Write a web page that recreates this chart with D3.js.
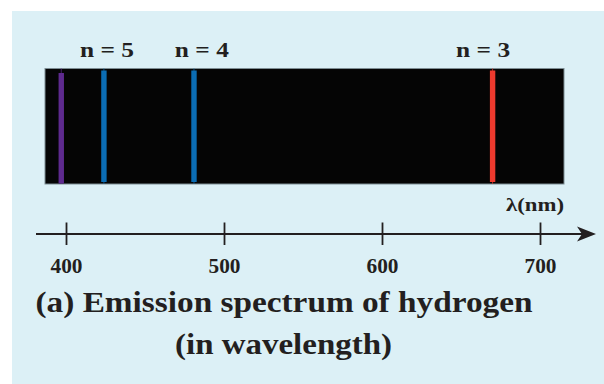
<!DOCTYPE html>
<html>
<head>
<meta charset="utf-8">
<script src="https://cdn.jsdelivr.net/npm/d3@7"></script>
<style>
  body { margin: 0; background: #fff; }
</style>
</head>
<body>
<div id="chart"></div>
<script>
// data
var lineWavelengths = [397, 424, 481, 670];
var lineColors = ["#5e2a8e", "#0b6db4", "#0b6db4", "#ee3a2e"];
var levelLabels = ["n = 5", "n = 4", "n = 3"];
var levelWavelengths = [426, 486, 664];
var tickValues = [400, 500, 600, 700];

var width = 604, height = 384;
var serif = "'Liberation Serif', 'Times New Roman', Times, serif";

var svg = d3.select("#chart")
  .append("svg")
    .attr("width", width)
    .attr("height", height)
    .style("font-family", serif)
    .style("font-weight", "bold");

// light blue panel
svg.append("rect")
  .attr("x", 12).attr("y", 11)
  .attr("width", width - 12).attr("height", height - 11)
  .style("fill", "#dcf0f6");

// x scale (wavelength in nm)
var x = d3.scaleLinear()
  .domain([400, 700])
  .range([66, 540]);

// black spectrum box
var boxTop = 68.5, boxBottom = 184;
svg.append("rect")
  .attr("x", 45).attr("y", boxTop)
  .attr("width", 519).attr("height", boxBottom - boxTop)
  .style("fill", "#050505")
  .style("stroke", "#7d8d93")
  .style("stroke-width", 1);

// thin guide line of each emission line
svg.selectAll("thinline")
  .data(lineWavelengths)
  .enter()
  .append("line")
    .attr("x1", function(d) { return x(d); })
    .attr("x2", function(d) { return x(d); })
    .attr("y1", boxTop)
    .attr("y2", boxBottom)
    .style("stroke", function(d, i) { return lineColors[i]; })
    .style("stroke-width", 1)
    .style("opacity", 0.7);

// thick emission lines
svg.selectAll("specline")
  .data(lineWavelengths)
  .enter()
  .append("rect")
    .attr("x", function(d) { return x(d) - 2.7; })
    .attr("y", function(d, i) { return i == 0 ? 73 : 70.5; })
    .attr("width", 5.4)
    .attr("height", function(d, i) { return i == 0 ? 110.5 : 111.5; })
    .style("fill", function(d, i) { return lineColors[i]; });

// n labels
svg.selectAll("nlabel")
  .data(levelLabels)
  .enter()
  .append("text")
    .attr("x", function(d, i) { return x(levelWavelengths[i]); })
    .attr("y", 56.5)
    .attr("text-anchor", "middle")
    .attr("textLength", 54)
    .attr("lengthAdjust", "spacingAndGlyphs")
    .style("font-size", "21px")
    .style("fill", "#231f20")
    .text(function(d) { return d; });

// axis label
svg.append("text")
  .attr("x", 564)
  .attr("y", 210.5)
  .attr("text-anchor", "end")
  .attr("textLength", 58)
  .attr("lengthAdjust", "spacingAndGlyphs")
  .style("font-size", "18px")
  .style("fill", "#231f20")
  .text("λ(nm)");

// axis line with arrow
var axisY = 234;
svg.append("line")
  .attr("x1", 36).attr("x2", 584)
  .attr("y1", axisY).attr("y2", axisY)
  .style("stroke", "#231f20")
  .style("stroke-width", 1.8);

svg.append("path")
  .attr("d", "M596," + axisY + " L577," + (axisY - 7.5) + " L582," + axisY + " L577," + (axisY + 7.5) + " Z")
  .style("fill", "#231f20");

// ticks crossing the axis
var axis = svg.append("g")
  .attr("transform", "translate(0," + (axisY - 11.5) + ")")
  .call(d3.axisBottom(x).tickValues(tickValues).tickSize(22.5).tickFormat(d3.format("d")));

axis.attr("font-family", null).attr("font-size", null);
axis.select(".domain").remove();
axis.selectAll(".tick line")
  .style("stroke", "#231f20")
  .style("stroke-width", 1.8);
axis.selectAll(".tick text")
  .attr("y", 50)
  .attr("dy", null)
  .style("font-size", "20px")
  .style("fill", "#231f20")
  .attr("textLength", 32)
  .attr("lengthAdjust", "spacingAndGlyphs");

// caption
svg.append("text")
  .attr("x", 284)
  .attr("y", 311.5)
  .attr("text-anchor", "middle")
  .attr("textLength", 497)
  .attr("lengthAdjust", "spacingAndGlyphs")
  .style("font-size", "29px")
  .style("fill", "#231f20")
  .text("(a) Emission spectrum of hydrogen");

svg.append("text")
  .attr("x", 283.5)
  .attr("y", 353.5)
  .attr("text-anchor", "middle")
  .attr("textLength", 217)
  .attr("lengthAdjust", "spacingAndGlyphs")
  .style("font-size", "29px")
  .style("fill", "#231f20")
  .text("(in wavelength)");
</script>
</body>
</html>
